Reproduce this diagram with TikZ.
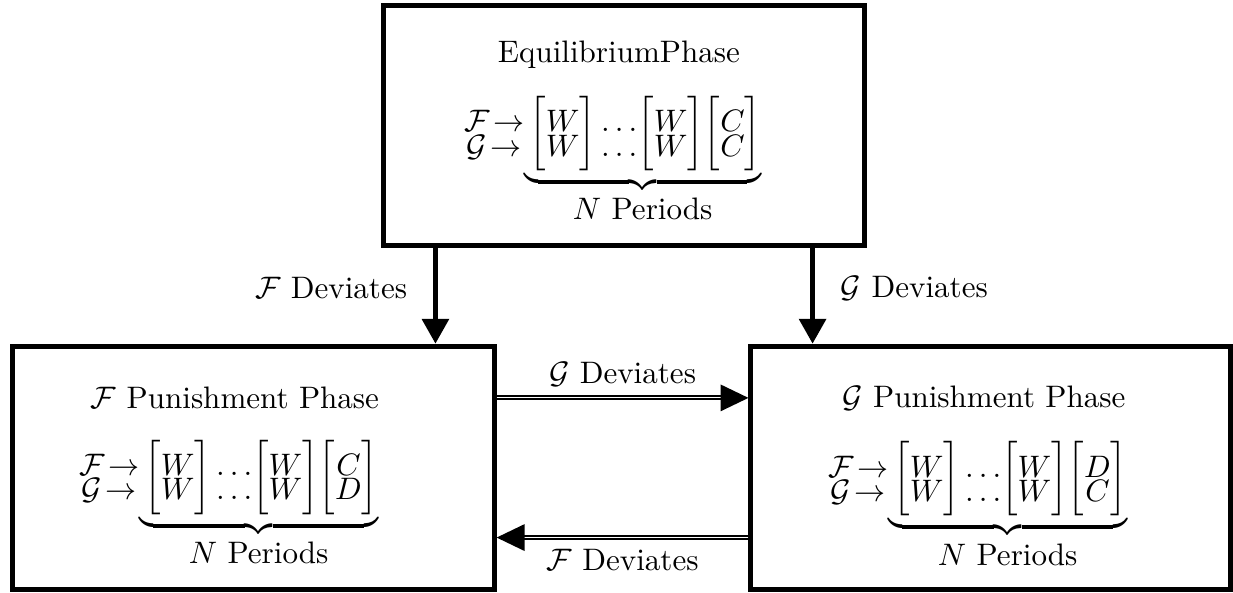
\documentclass[tikz,border=0pt]{standalone}
\usepackage{amsmath}
\usepackage{amssymb}
\usepackage{tikz}
\usetikzlibrary{positioning,arrows.meta}
\newcommand{\Pair}[2]{\raisebox{-1pt}{$\begin{matrix}#1\\[-4.2pt]#2\end{matrix}$}}
\newcommand{\Col}[2]{\bigg[\Pair{#1}{#2}\bigg]}
\newcommand{\Plays}[2]{%
  \Pair{\mathcal{F}\!\rightarrow}{\mathcal{G}\!\rightarrow}\!
  \underbrace{\,\Col{W}{W}\,\Pair{\ldots}{\ldots}\Col{W}{W}\Col{#1}{#2}}_{\textstyle N\text{ Periods}}\hspace{4pt}}
\tikzset{
  phasebox/.style={draw,rectangle,ultra thick,minimum height=2.75cm},
  devarrow/.style={ultra thick,-{Triangle[length=8pt,width=8.5pt]}},
  switcharrow/.style={double,line width=0.65pt,double distance=0.3pt,
    -{Triangle[length=9pt,width=8.5pt]}}
}
\begin{document}
\begin{tikzpicture}
\useasboundingbox (0,0) rectangle (13.948,6.697);
% the three phases
\node[phasebox,minimum width=5.45cm,minimum height=2.72cm] (eq) at (7.059,5.280) {};
\node[phasebox,minimum width=5.45cm] (fpun) at (2.865,1.406) {};
\node[phasebox,minimum width=5.42cm] (gpun) at (11.205,1.406) {};
\node[align=center] (eqtxt) at (7.002,5.205) {EquilibriumPhase\\[8pt] $\Plays{C}{C}$};
\node[align=center] (ftxt) at (2.658,1.300) {$\mathcal{F}$ Punishment Phase\\[9pt] $\Plays{C}{D}$};
\node[align=center] (gtxt) at (11.131,1.300) {$\mathcal{G}$ Punishment Phase\\[9pt] $\Plays{D}{C}$};
% deviations from equilibrium
\coordinate (fdev) at ([xshift=0.62cm]eq.south west);
\coordinate (gdev) at ([xshift=-0.62cm]eq.south east);
\draw[devarrow] (fdev) -- (fdev |- fpun.north) node[pos=0.42,left=5pt] {$\mathcal{F}$ Deviates};
\draw[devarrow] (gdev) -- (gdev |- gpun.north) node[pos=0.42,right=5pt] {$\mathcal{G}$ Deviates};
% deviations between punishments
\draw[switcharrow] ([yshift=0.79cm]fpun.east) -- ([yshift=0.79cm]gpun.west)
  node[midway,above] {$\mathcal{G}$ Deviates};
\draw[switcharrow] ([yshift=-0.79cm]gpun.west) -- ([yshift=-0.79cm]fpun.east)
  node[midway,below] {$\mathcal{F}$ Deviates};
\end{tikzpicture}
\end{document}
